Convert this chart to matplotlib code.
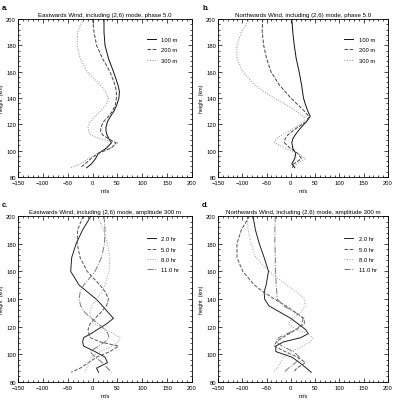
import numpy as np
import matplotlib
matplotlib.use('Agg')
import matplotlib.pyplot as plt
from matplotlib.ticker import MultipleLocator

# heights (km) at which the wind profiles were read
height = [200, 190, 180, 170, 160, 150, 145, 140, 135, 130, 126, 122,
          118, 115, 112, 109, 106, 102, 98, 94, 90, 87]

# a. eastwards wind, phase 5.0, three amplitudes
east_100 = [23, 23, 25, 32, 42, 51, 54, 53, 49, 43, 36, 30, 27, 27, 29, 33, 38, 28, 12, 6, -2, -12]
east_200 = [0, 3, 8, 20, 35, 45, 48, 48, 46, 40, 32, 22, 17, 16, 20, 32, 47, 38, 12, -3, -15, -25]
east_300 = [-19, -30, -31, -25, -11, 15, 26, 32, 28, 16, 5, -5, -9, -8, -4, 15, 52, 35, 8, -8, -25, -43]

# b. northwards wind, phase 5.0
north_100 = [2, 4, 7, 11, 17, 22, 24, 26, 30, 35, 40, 32, 22, 15, 9, 4, 2, 4, 10, 8, 2, 8]
north_200 = [-58, -59, -56, -50, -41, -24, -12, 0, 14, 28, 37, 32, 15, 4, -6, -12, -13, -2, 14, 22, 6, 3]
north_300 = [-85, -102, -111, -111, -99, -75, -56, -34, -10, 11, 27, 28, 11, -3, -18, -30, -34, -12, 14, 30, 12, 6]

# c. eastwards wind, amplitude 300 m, four times
east_2h = [-3, -20, -33, -42, -44, -27, -10, 7, 20, 32, 42, 28, 10, -3, -18, -20, -18, 5, 25, 30, 8, 12]
east_5h = east_300
east_8h = [10, 22, 30, 35, 33, 25, 18, 8, -2, -5, -3, 5, 25, 42, 55, 52, 40, 15, -2, -8, -12, -15]
east_11h = [23, 25, 24, 18, 5, -18, -25, -27, -24, -15, -2, 12, 25, 31, 33, 25, 12, -5, 5, 20, 30, 38]

# d. northwards wind, amplitude 300 m
north_2h = [-78, -73, -65, -55, -46, -51, -55, -54, -45, -20, 0, 15, 30, 36, 20, -15, -31, -31, 2, 18, 32, 42]
north_5h = north_300
north_8h = [-90, -88, -82, -72, -45, -8, 12, 28, 30, 20, 3, -5, 10, 35, 45, 40, 25, 0, -15, -22, -28, -36]
north_11h = [-32, -33, -33, -32, -32, -30, -29, -28, -15, 10, 25, 22, 12, -8, -25, -30, -18, 5, 18, 10, -5, -14]

amp_labels = ['100 m', '200 m', '300 m']
time_labels = ['2.0 hr', '5.0 hr', '8.0 hr', '11.0 hr']

plt.rcParams['font.family'] = ['Liberation Sans', 'DejaVu Sans']
plt.rcParams['font.size'] = 4.2

amp_styles = [('-', '#111111'), ('--', '#444444'), (':', '#888888')]
time_styles = [('-', '#222222'), ('--', '#555555'), (':', '#999999'), ('-.', '#777777')]

fig = plt.figure(figsize=(3.96, 4.02), dpi=100)

W, H = 396.0, 402.0
def box(l, t, r, b):
    return [l / W, 1 - b / H, (r - l) / W, (b - t) / H]

panels = [
    (box(18, 20, 192, 178), 'a.', 'Eastwards Wind, including (2,6) mode, phase 5.0',
     [east_100, east_200, east_300], amp_labels, amp_styles, 0.92),
    (box(218, 20, 388, 178), 'b.', 'Northwards Wind, including (2,6) mode, phase 5.0',
     [north_100, north_200, north_300], amp_labels, amp_styles, 0.92),
    (box(18, 217, 192, 383), 'c.', 'Eastwards Wind, including (2,6) mode, amplitude 300 m',
     [east_2h, east_5h, east_8h, east_11h], time_labels, time_styles, 0.91),
    (box(218, 217, 388, 383), 'd.', 'Northwards Wind, including (2,6) mode, amplitude 300 m',
     [north_2h, north_5h, north_8h, north_11h], time_labels, time_styles, 0.91),
]

for rect, letter, title, series, labels, styles, ly in panels:
    ax = fig.add_axes(rect)
    for vals, lab, (ls, col) in zip(series, labels, styles):
        ax.plot(vals, height, linestyle=ls, color=col, lw=0.7, label=lab)
    ax.set_xlim(-150, 200)
    ax.set_ylim(80, 200)
    ax.xaxis.set_major_locator(MultipleLocator(50))
    ax.xaxis.set_minor_locator(MultipleLocator(10))
    ax.yaxis.set_major_locator(MultipleLocator(20))
    ax.yaxis.set_minor_locator(MultipleLocator(4))
    ax.tick_params(which='both', direction='in', top=True, right=True,
                   labelsize=4.2, width=0.5)
    ax.tick_params(axis='x', pad=2.5)
    ax.tick_params(axis='y', pad=1.5)
    ax.tick_params(which='major', length=3)
    ax.tick_params(which='minor', length=1.5)
    for s in ax.spines.values():
        s.set_linewidth(0.6)
    ax.set_title(title, fontsize=4.4, pad=2)
    ax.set_xlabel('m/s', fontsize=4.2, labelpad=1.5)
    ax.set_ylabel('height  (km)', fontsize=3.8)
    ax.yaxis.set_label_coords(-0.082, 0.5)
    ax.legend(loc='upper left', bbox_to_anchor=(0.71, ly), frameon=False,
              handlelength=1.6, handletextpad=0.9, labelspacing=0.9,
              fontsize=4.2)
    fig.text(rect[0] - 0.04, rect[1] + rect[3] + 0.028, letter,
             fontsize=5.5, fontweight='bold', va='center', ha='left')

fig.savefig('out.png', dpi=100)
